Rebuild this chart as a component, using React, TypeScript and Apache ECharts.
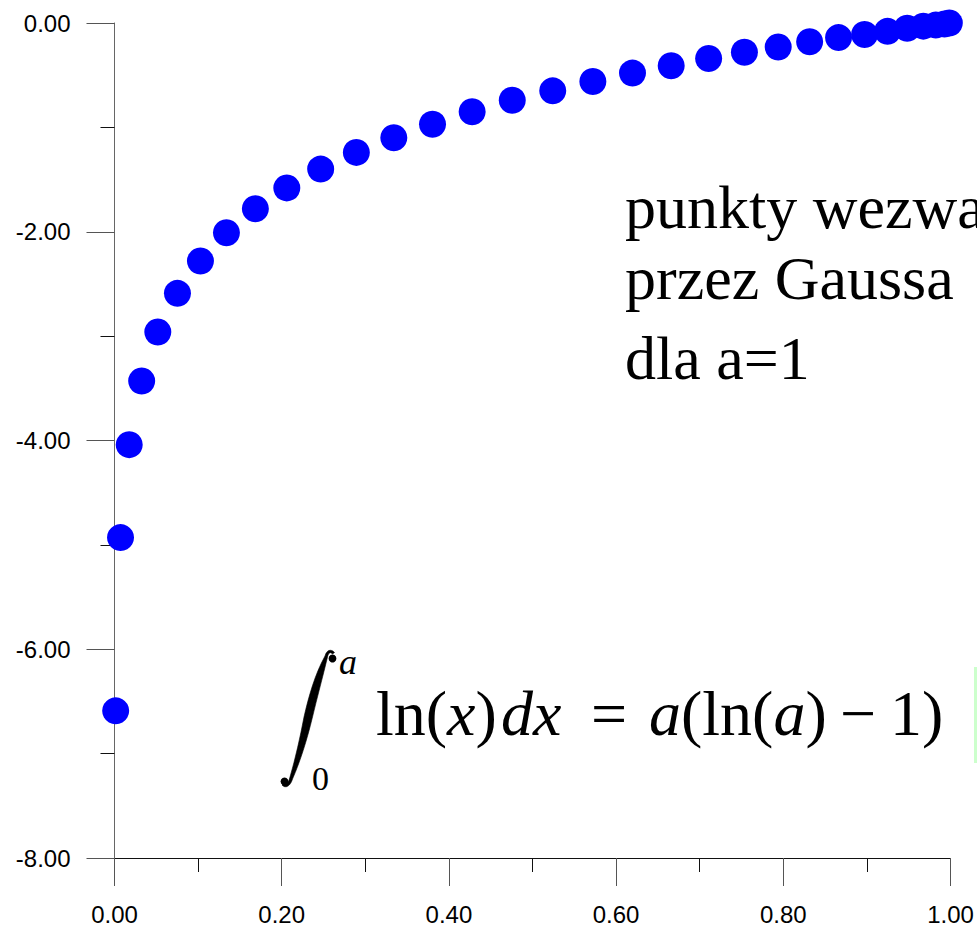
import React, { useEffect, useRef } from "react";
import * as echarts from "echarts";

// Gauss quadrature nodes on [0, a] with a = 1, and ln(x) at those nodes
const nodesX = [
  0.0014, 0.0072, 0.0176, 0.0325, 0.0518, 0.0753, 0.1028, 0.1339, 0.1685, 0.2061,
  0.2466, 0.2893, 0.3341, 0.3804, 0.4278, 0.4758, 0.5242, 0.5722, 0.6196, 0.6659,
  0.7107, 0.7535, 0.7939, 0.8315, 0.8661, 0.8972, 0.9247, 0.9482, 0.9675, 0.9824,
  0.9928, 0.9986,
];
const lnValues = [
  -6.59, -4.93, -4.04, -3.43, -2.96, -2.59, -2.28, -2.01, -1.78, -1.58,
  -1.4, -1.24, -1.1, -0.97, -0.85, -0.74, -0.65, -0.56, -0.48, -0.41,
  -0.34, -0.28, -0.23, -0.18, -0.14, -0.11, -0.08, -0.05, -0.03, -0.02,
  -0.01, 0.0,
];
const xRange = [0, 1];
const yRange = [-8, 0];
const annotationLines = ["punkty wezwane", "przez Gaussa", "dla a=1"];

const INTEGRAL_D =
  "M 325 656 C 326.5 650 331 648.5 334.5 652.5 L 332.5 654 C 330.5 651.5 328.5 652.5 327.5 657 " +
  "C 323 676 317 698 312.5 717 C 307 740 300 762 292.5 779 C 290.5 786 285.5 789 282 785 " +
  "L 283.5 783.5 C 286 785.5 288.5 783 290 777 C 295.5 758 300 738 304 717 C 308.5 697 315 674 325 656 Z";

export default function App() {
  const ref = useRef<HTMLDivElement>(null);

  useEffect(() => {
    document.body.style.margin = "0";
    if (!ref.current) return;
    try {
      echarts.graphic.registerShape("integralSign", echarts.graphic.extendPath(INTEGRAL_D, {}) as any);
    } catch (e) {}
    const chart = echarts.init(ref.current, null, { renderer: "svg" });
    const serif = "Liberation Serif";
    const sans = "Liberation Sans";
    const data = nodesX.map((x, i) => [x, lnValues[i]]);
    const baselines = [228, 299, 379];
    const blockFs = 62;
    const off = (fs: number) => 0.3375 * fs;
    const fFs = 64;
    const fBase = 735;
    const fy = fBase - off(fFs);
    const rich = {
      n: { fontFamily: serif, fontSize: fFs, fill: "#000", color: "#000" },
      i: { fontFamily: serif, fontSize: fFs, fontStyle: "italic", fill: "#000", color: "#000" },
    };

    chart.setOption({
      animation: false,
      backgroundColor: "#ffffff",
      grid: { left: 114.5, right: 26.5, top: 23, bottom: 69, containLabel: false },
      xAxis: {
        type: "value",
        min: xRange[0],
        max: xRange[1],
        interval: 0.2,
        splitLine: { show: false },
        axisLine: { show: true, onZero: false, lineStyle: { color: "#111", width: 1 } },
        axisTick: { show: true, inside: false, length: 28, lineStyle: { color: "#555" } },
        minorTick: { show: true, splitNumber: 2, length: 14, lineStyle: { color: "#111" } },
        axisLabel: {
          margin: 44,
          fontFamily: sans,
          fontSize: 24,
          color: "#000",
          formatter: (v: number) => v.toFixed(2),
        },
      },
      yAxis: {
        type: "value",
        min: yRange[0],
        max: yRange[1],
        interval: 2,
        splitLine: { show: false },
        axisLine: { show: true, onZero: false, lineStyle: { color: "#666", width: 1 } },
        axisTick: { show: true, inside: false, length: 28, lineStyle: { color: "#555" } },
        minorTick: { show: true, splitNumber: 2, length: 14, lineStyle: { color: "#111" } },
        axisLabel: {
          margin: 44,
          fontFamily: sans,
          fontSize: 24,
          color: "#000",
          formatter: (v: number) => v.toFixed(2),
        },
      },
      series: [
        {
          type: "scatter",
          data,
          symbol: "circle",
          symbolSize: 27,
          clip: false,
          itemStyle: { color: "#0000ff", opacity: 1 },
        },
      ],
      graphic: [
        ...annotationLines.map((t, i) => ({
          type: "text",
          x: 625,
          y: baselines[i] - off(blockFs),
          style: {
            text: t,
            fontFamily: serif,
            fontSize: blockFs,
            fill: "#000",
            verticalAlign: "middle",
          },
        })),
        {
          type: "integralSign",
          x: 0,
          y: 0,
          scaleX: 1,
          scaleY: 1,
          style: { fill: "#000", stroke: "#000", lineWidth: 0.6 },
        },
        { type: "circle", shape: { cx: 332.5, cy: 658.5, r: 3.9 }, style: { fill: "#000" } },
        { type: "circle", shape: { cx: 284.5, cy: 781.5, r: 3.9 }, style: { fill: "#000" } },
        {
          type: "text",
          x: 339,
          y: 662,
          style: { text: "a", fontFamily: serif, fontStyle: "italic", fontSize: 36, fill: "#000", verticalAlign: "middle" },
        },
        {
          type: "text",
          x: 312,
          y: 778,
          style: { text: "0", fontFamily: serif, fontSize: 34, fill: "#000", verticalAlign: "middle" },
        },
        {
          type: "text",
          x: 376,
          y: fy,
          style: { text: "{n|ln(}{i|x}{n|)}", verticalAlign: "middle", rich },
        },
        {
          type: "text",
          x: 501,
          y: fy,
          style: { text: "{i|dx}", verticalAlign: "middle", rich },
        },
        {
          type: "text",
          x: 609,
          y: fy,
          style: { text: "=", fontFamily: serif, fontSize: fFs, fill: "#000", align: "center", verticalAlign: "middle" },
        },
        {
          type: "text",
          x: 649,
          y: fy,
          style: { text: "{i|a}{n|(ln(}{i|a}{n|)}", verticalAlign: "middle", rich },
        },
        {
          type: "text",
          x: 858,
          y: fy,
          style: { text: "−", fontFamily: serif, fontSize: fFs, fill: "#000", align: "center", verticalAlign: "middle" },
        },
        {
          type: "text",
          x: 890,
          y: fy,
          style: { text: "1)", fontFamily: serif, fontSize: fFs, fill: "#000", verticalAlign: "middle" },
        },
        {
          type: "rect",
          shape: { x: 974, y: 667, width: 20, height: 96 },
          style: { fill: "#ccffcc" },
        },
      ],
    });
    return () => chart.dispose();
  }, []);

  return <div ref={ref} style={{ width: 977, height: 927 }} />;
}
